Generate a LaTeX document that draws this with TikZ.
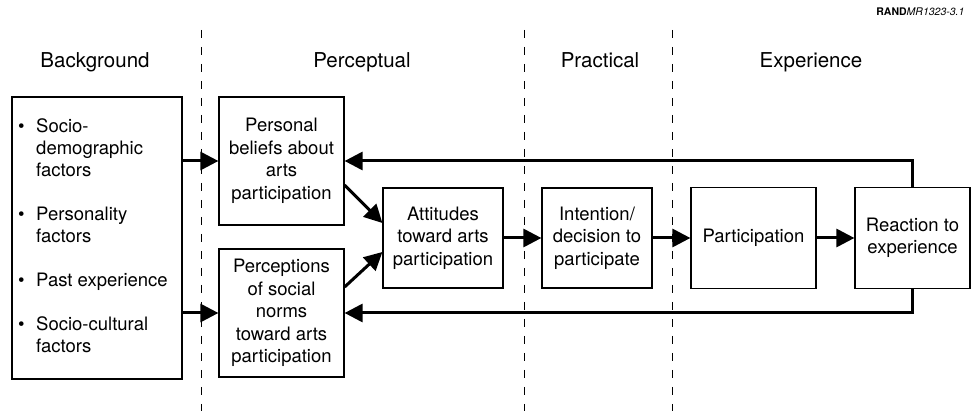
\documentclass[tikz,border=0pt]{standalone}
\usepackage{fontspec}
\setmainfont{TeX Gyre Heros}
\usetikzlibrary{arrows.meta,calc}
\begin{document}
\begin{tikzpicture}[x=1pt,y=-1pt,
  box/.style={draw,line width=1.2pt,rectangle,align=center,inner sep=2pt,
    font=\fontsize{18.5}{22.5}\selectfont},
  head/.style={font=\fontsize{20.5}{24}\selectfont,anchor=base},
  flow/.style={line width=3pt,-{Triangle[length=18pt,width=18pt]}},
  sepline/.style={line width=1pt,dash pattern=on 8pt off 9pt}]
\useasboundingbox (0,0) rectangle (972,411);

% label
\node[font=\fontsize{10.5}{12}\selectfont,anchor=base east] (rand) at (968,16)
  {\textbf{RAND}\textit{MR1323-3.1}};

% separators
\foreach \x/\n in {201/a,524/b,672/c}{
  \coordinate (s\n t) at (\x,30);
  \coordinate (s\n b) at (\x,411);
  \draw[sepline] (s\n t) -- (s\n b);
}

% headings
\node[head] (h1) at (95,68) {Background};
\node[head] (h2) at (362,68) {Perceptual};
\node[head] (h3) at (600,68) {Practical};
\node[head] (h4) at (811,68) {Experience};

% boxes
\node[box,minimum width=170pt,minimum height=282pt,
  font=\fontsize{18.5}{22}\selectfont] (bg) at (97,238)
  {\hspace*{-8pt}\begin{tabular}{@{}p{18pt}@{}l@{}}
   \textbullet & Socio-\\
    & demographic\\
    & factors\\
   \\
   \textbullet & Personality\\
    & factors\\
   \\
   \textbullet & Past experience\\
   \\
   \textbullet & Socio-cultural\\
    & factors
   \end{tabular}};
\node[box,minimum width=125pt,minimum height=128pt] (pb) at (281.5,161)
  {Personal\\beliefs about\\arts\\participation};
\node[box,minimum width=125pt,minimum height=128pt] (pn) at (281.5,313)
  {Perceptions\\of social\\norms\\toward arts\\participation};
\node[box,minimum width=120pt,minimum height=100pt] (at) at (443,238)
  {Attitudes\\toward arts\\participation};
\node[box,minimum width=110pt,minimum height=100pt] (in) at (597,238)
  {Intention/\\decision to\\participate};
\node[box,minimum width=125pt,minimum height=101pt] (pa) at (753.5,238)
  {Participation};
\node[box,minimum width=115pt,minimum height=101pt] (re) at (912.5,238)
  {Reaction to\\experience};

% connectors
\draw[flow] (bg.east |- pb.west) -- (pb.west);
\draw[flow] (bg.east |- pn.west) -- (pn.west);
\draw[flow] ($(pb.east)+(0,24)$) -- ($(at.west)+(0,-15)$);
\draw[flow] ($(pn.east)+(0,-26)$) -- ($(at.west)+(0,14)$);
\draw[flow] (at.east) -- (in.west);
\draw[flow] (in.east) -- (pa.west);
\draw[flow] (pa.east) -- (re.west);
\draw[flow] (re.north) |- (pb.east);
\draw[flow] (re.south) |- (pn.east);
\end{tikzpicture}
\end{document}
